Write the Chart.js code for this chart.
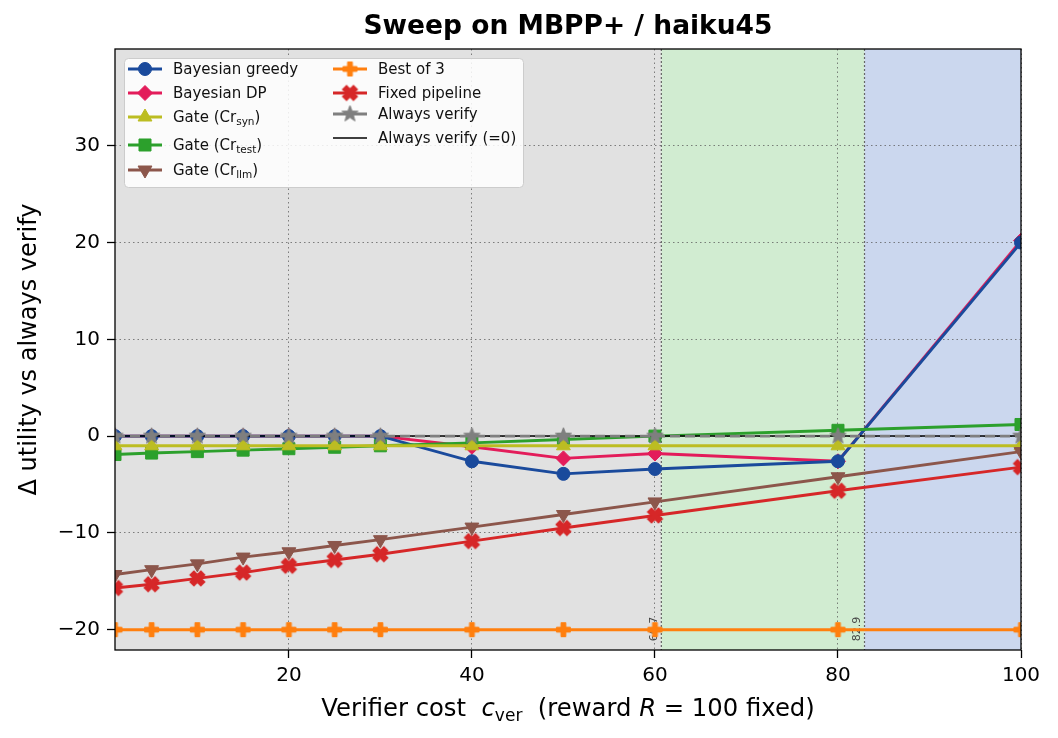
<!DOCTYPE html>
<html>
<head>
<meta charset="utf-8">
<title>Sweep on MBPP+ / haiku45</title>
<script src="https://cdn.jsdelivr.net/npm/chart.js@4.4.1/dist/chart.umd.min.js"></script>
<style>
	html, body { margin: 0; padding: 0; background: #fff; }
	#wrap { width: 1058px; height: 738px; }
</style>
</head>
<body>
<div id="wrap"><canvas id="sweepChart" width="1058" height="738"></canvas></div>
<script>
// valores
const costs = [1, 5, 10, 15, 20, 25, 30, 40, 50, 60, 80, 100];
const bayesGreedy = [0, 0, 0, 0, 0, 0, 0, -2.6, -3.9, -3.4, -2.6, 20.0];
const bayesDP = [0, 0, 0, 0, 0, 0, 0, -1.1, -2.3, -1.8, -2.6, 20.2];
const gateSyn = [-1.0, -1.0, -1.0, -1.0, -1.0, -1.0, -1.0, -1.0, -1.0, -1.0, -1.0, -1.0];
const gateTest = [-1.9, -1.75, -1.6, -1.45, -1.3, -1.15, -1.0, -0.7, -0.35, 0.0, 0.6, 1.2];
const gateLlm = [-14.3, -13.8, -13.2, -12.5, -11.95, -11.3, -10.7, -9.4, -8.1, -6.8, -4.2, -1.6];
const bestOf3 = [-20, -20, -20, -20, -20, -20, -20, -20, -20, -20, -20, -20];
const fixedPipeline = [-15.7, -15.3, -14.7, -14.1, -13.4, -12.8, -12.2, -10.85, -9.5, -8.2, -5.65, -3.2];
const alwaysVerify = [0, 0, 0, 0, 0, 0, 0, 0, 0, 0, 0, 0];
const zeroLineX = [1, 100];
const zeroLineY = [0, 0];

const xTicks = [20, 40, 60, 80, 100];
const yTicks = [-20, -10, 0, 10, 20, 30];
const regionEdges = [60.7, 82.9];
const regionColors = ["#e1e1e1", "#d1ecd1", "#cbd7ee"];

const FONT = "'DejaVu Sans', 'Liberation Sans', sans-serif";
const TITLE = "Sweep on MBPP+ / haiku45";

function toPoints(xs, ys) {
	return xs.map((x, i) => ({ x: x, y: ys[i] }));
}

// marcadores rellenos que Chart.js no trae
function starMarker(color, outer) {
	const s = Math.ceil(outer * 2 + 4);
	const c = document.createElement("canvas");
	c.width = s;
	c.height = s;
	const ctx = c.getContext("2d");
	ctx.translate(s / 2, s / 2);
	ctx.beginPath();
	for (let i = 0; i < 10; i++) {
		const r = i % 2 ? outer * 0.42 : outer;
		const a = -Math.PI / 2 + (i * Math.PI) / 5;
		ctx.lineTo(Math.cos(a) * r, Math.sin(a) * r);
	}
	ctx.closePath();
	ctx.fillStyle = color;
	ctx.strokeStyle = color;
	ctx.lineWidth = 1;
	ctx.fill();
	ctx.stroke();
	return c;
}

function plusMarker(color, h, w, rot) {
	const s = Math.ceil(h * 2.9 + 4);
	const c = document.createElement("canvas");
	c.width = s;
	c.height = s;
	const ctx = c.getContext("2d");
	ctx.translate(s / 2, s / 2);
	ctx.rotate(rot);
	const pts = [[-w, -h], [w, -h], [w, -w], [h, -w], [h, w], [w, w], [w, h], [-w, h], [-w, w], [-h, w], [-h, -w], [-w, -w]];
	ctx.beginPath();
	pts.forEach((p) => ctx.lineTo(p[0], p[1]));
	ctx.closePath();
	ctx.fillStyle = color;
	ctx.strokeStyle = color;
	ctx.lineWidth = 1;
	ctx.fill();
	ctx.stroke();
	return c;
}

function lineSet(label, ys, color, style, extra) {
	return Object.assign({
		label: label,
		data: toPoints(costs, ys),
		borderColor: color,
		backgroundColor: color,
		pointBackgroundColor: color,
		pointBorderColor: color,
		pointBorderWidth: 1,
		borderWidth: 2.9,
		pointStyle: style,
		pointRadius: 6.5,
		pointHoverRadius: 6.5,
		tension: 0,
		clip: 0,
	}, extra || {});
}

const datasets = [
	lineSet("Bayesian greedy", bayesGreedy, "#1a4a9c", "circle", { order: 8 }),
	lineSet("Bayesian DP", bayesDP, "#e31c5a", "rectRot", { order: 9, pointRadius: 7.5 }),
	lineSet("Gate (Cr|syn|)", gateSyn, "#bcbd22", "triangle", { order: 6, pointRadius: 8 }),
	lineSet("Gate (Cr|test|)", gateTest, "#2ca02c", "rect", { order: 7, pointRadius: 8.5 }),
	lineSet("Gate (Cr|llm|)", gateLlm, "#8c564b", "triangle", { order: 5, pointRadius: 8, pointRotation: 180 }),
	lineSet("Best of 3", bestOf3, "#ff7f0e", plusMarker("#ff7f0e", 7, 2.4, 0), { order: 4 }),
	lineSet("Fixed pipeline", fixedPipeline, "#d62728", plusMarker("#d62728", 7.8, 2.9, Math.PI / 4), { order: 3 }),
	lineSet("Always verify", alwaysVerify, "#7f7f7f", starMarker("#7f7f7f", 8.5), { order: 1, borderDash: [10, 5], legendSolid: true }),
	{
		label: "Always verify (=0)",
		data: toPoints(zeroLineX, zeroLineY),
		borderColor: "#000",
		backgroundColor: "#000",
		borderWidth: 1.5,
		pointRadius: 0,
		pointHoverRadius: 0,
		order: 2,
		clip: 0,
	},
];

const regionsPlugin = {
	id: "regions",
	beforeDraw(chart) {
		const { ctx, chartArea: a, scales: { x } } = chart;
		const edges = [x.min].concat(regionEdges, [x.max]);
		ctx.save();
		for (let i = 0; i < edges.length - 1; i++) {
			const x0 = x.getPixelForValue(edges[i]);
			const x1 = x.getPixelForValue(edges[i + 1]);
			ctx.fillStyle = regionColors[i];
			ctx.fillRect(x0, a.top, x1 - x0, a.bottom - a.top);
		}
		ctx.restore();
	},
	beforeDatasetsDraw(chart) {
		const { ctx, chartArea: a, scales: { x } } = chart;
		ctx.save();
		regionEdges.forEach((edge) => {
			const px = x.getPixelForValue(edge);
			ctx.strokeStyle = "#666";
			ctx.lineWidth = 1.2;
			ctx.setLineDash([2, 2]);
			ctx.beginPath();
			ctx.moveTo(px, a.top);
			ctx.lineTo(px, a.bottom);
			ctx.stroke();
			ctx.setLineDash([]);
			ctx.save();
			ctx.translate(px - 7, a.bottom - 21);
			ctx.rotate(-Math.PI / 2);
			ctx.fillStyle = "#444";
			ctx.font = "11px " + FONT;
			ctx.textAlign = "center";
			ctx.textBaseline = "middle";
			ctx.fillText(edge.toFixed(1), 0, 0);
			ctx.restore();
		});
		ctx.restore();
	},
	afterDatasetsDraw(chart) {
		const { ctx, chartArea: a } = chart;
		ctx.save();
		ctx.strokeStyle = "#000";
		ctx.lineWidth = 1.3;
		ctx.strokeRect(a.left, a.top, a.right - a.left, a.bottom - a.top);
		ctx.restore();
	},
};

// texto con subíndices: "Gate (Cr|syn|)"
function drawRichText(ctx, text, x, y, size) {
	const parts = text.split("|");
	let cx = x;
	parts.forEach((p, i) => {
		const sub = i % 2 === 1;
		ctx.font = (sub ? size * 0.7 : size) + "px " + FONT;
		ctx.fillText(p, cx, sub ? y + size * 0.28 : y);
		cx += ctx.measureText(p).width;
	});
}

function drawMarker(ctx, ds, px, py) {
	const style = ds.pointStyle;
	if (!style || ds.pointRadius === 0) return;
	ctx.fillStyle = ds.pointBackgroundColor;
	ctx.strokeStyle = ds.pointBorderColor;
	ctx.lineWidth = ds.pointBorderWidth;
	Chart.helpers.drawPoint(ctx, {
		pointStyle: style,
		radius: ds.pointRadius,
		rotation: ds.pointRotation || 0,
		borderWidth: ds.pointBorderWidth,
	}, px, py);
}

const legendPlugin = {
	id: "insideLegend",
	afterDraw(chart) {
		const { ctx, chartArea: a } = chart;

		// título centrado sobre el área del gráfico
		ctx.save();
		ctx.fillStyle = "#000";
		ctx.font = "bold 26.5px " + FONT;
		ctx.textAlign = "center";
		ctx.textBaseline = "middle";
		ctx.fillText(TITLE, (a.left + a.right) / 2, 27);
		ctx.restore();

		const bx = a.left + 9;
		const by = a.top + 9;
		const bw = 399;
		const bh = 129;
		ctx.save();
		ctx.fillStyle = "rgba(255,255,255,0.85)";
		ctx.strokeStyle = "#cccccc";
		ctx.lineWidth = 1;
		ctx.beginPath();
		ctx.roundRect(bx + 0.5, by + 0.5, bw, bh, 4);
		ctx.fill();
		ctx.stroke();

		const cols = [
			{ x: bx + 4, rows: [11, 35, 59, 87, 112] },
			{ x: bx + 209, rows: [11, 35, 56, 80] },
		];
		const ds = chart.data.datasets;
		let k = 0;
		cols.forEach((col) => {
			col.rows.forEach((ry) => {
				const d = ds[k++];
				const y = by + ry;
				ctx.strokeStyle = d.borderColor;
				ctx.lineWidth = d.borderWidth;
				ctx.setLineDash(d.legendSolid ? [] : d.borderDash || []);
				ctx.beginPath();
				ctx.moveTo(col.x, y);
				ctx.lineTo(col.x + 34, y);
				ctx.stroke();
				ctx.setLineDash([]);
				drawMarker(ctx, d, col.x + 17, y);
				ctx.fillStyle = "#111";
				ctx.textAlign = "left";
				ctx.textBaseline = "middle";
				drawRichText(ctx, d.label, col.x + 45, y + 1, 15);
			});
		});
		ctx.restore();

		// etiqueta del eje x con partes en cursiva
		const parts = [
			{ t: "Verifier cost  ", f: "24.3px " + FONT, dy: 0 },
			{ t: "c", f: "italic 24.3px " + FONT, dy: 0 },
			{ t: "ver", f: "17px " + FONT, dy: 5 },
			{ t: "  (reward ", f: "24.3px " + FONT, dy: 0 },
			{ t: "R", f: "italic 24.3px " + FONT, dy: 0 },
			{ t: " = 100 fixed)", f: "24.3px " + FONT, dy: 0 },
		];
		ctx.save();
		ctx.fillStyle = "#000";
		ctx.textBaseline = "alphabetic";
		ctx.textAlign = "left";
		let total = 0;
		parts.forEach((p) => {
			ctx.font = p.f;
			p.w = ctx.measureText(p.t).width;
			total += p.w;
		});
		let cx = (a.left + a.right) / 2 - total / 2;
		parts.forEach((p) => {
			ctx.font = p.f;
			ctx.fillText(p.t, cx, 716 + p.dy);
			cx += p.w;
		});
		ctx.restore();
	},
};

const ctx = document.getElementById("sweepChart").getContext("2d");
new Chart(ctx, {
	type: "line",
	data: { datasets: datasets },
	plugins: [regionsPlugin, legendPlugin],
	options: {
		responsive: false,
		animation: false,
		devicePixelRatio: 1,
		layout: { padding: { left: 0, right: 37, top: 49, bottom: 0 } },
		plugins: {
			legend: { display: false },
			tooltip: { enabled: false },
			title: { display: false },
		},
		scales: {
			x: {
				type: "linear",
				min: 1,
				max: 100,
				afterBuildTicks: (scale) => {
					scale.ticks = xTicks.map((v) => ({ value: v }));
				},
				afterFit: (scale) => {
					scale.height = 88;
				},
				ticks: {
					color: "#000",
					font: { family: FONT, size: 20 },
					padding: 6,
					maxRotation: 0,
					autoSkip: false,
				},
				grid: {
					color: "rgba(90,90,90,0.75)",
					lineWidth: 1,
					drawTicks: true,
					tickLength: 8,
					tickColor: "#000",
					tickWidth: 1.3,
				},
				border: { display: false, dash: [1.5, 3] },
			},
			y: {
				type: "linear",
				min: -22.1,
				max: 40,
				afterBuildTicks: (scale) => {
					scale.ticks = yTicks.map((v) => ({ value: v }));
				},
				afterFit: (scale) => {
					scale.width = 115;
				},
				ticks: {
					color: "#000",
					font: { family: FONT, size: 20 },
					padding: 7,
					callback: (v) => (v < 0 ? "\u2212" + Math.abs(v) : String(v)),
				},
				grid: {
					color: "rgba(90,90,90,0.75)",
					lineWidth: 1,
					drawTicks: true,
					tickLength: 8,
					tickColor: "#000",
					tickWidth: 1.3,
				},
				border: { display: false, dash: [1.5, 3] },
				title: {
					display: true,
					text: "\u0394 utility vs always verify",
					color: "#000",
					font: { family: FONT, size: 24 },
					padding: { top: 15, bottom: 0 },
				},
			},
		},
	},
});
</script>
</body>
</html>
